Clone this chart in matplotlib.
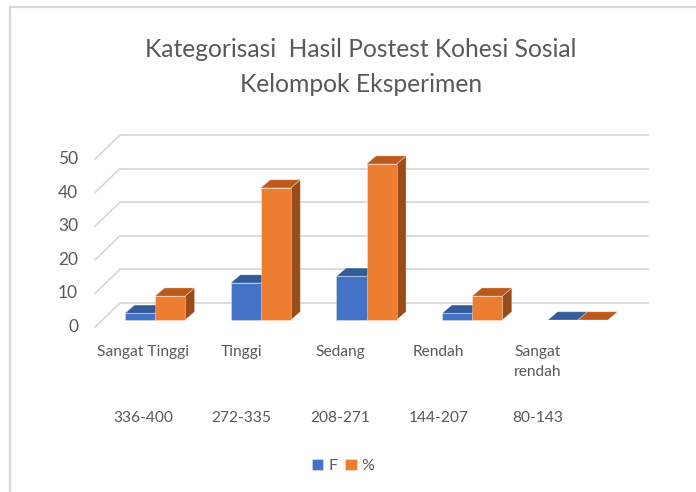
import matplotlib
matplotlib.use("Agg")
import matplotlib.pyplot as plt
from matplotlib.patches import Polygon
from matplotlib.lines import Line2D

# ---- data ----
categories = ["Sangat Tinggi", "Tinggi", "Sedang", "Rendah", "Sangat\nrendah"]
ranges = ["336-400", "272-335", "208-271", "144-207", "80-143"]
series_F = [2, 11, 13, 2, 0]
series_pct = [7.1, 39.3, 46.4, 7.1, 0]
yticks = [0, 10, 20, 30, 40, 50]
title = "Kategorisasi  Hasil Postest Kohesi Sosial\nKelompok Eksperimen"

# ---- style ----
FONT = ["Lato", "DejaVu Sans"]
plt.rcParams["font.family"] = FONT
TXT = "#595959"
GRID = "#d9d9d9"
blue = dict(front="#4472C4", top="#355A98", side="#2E4D85")
orange = dict(front="#ED7D31", top="#BC5A1C", side="#9A4B1A")

fig = plt.figure(figsize=(6.96, 4.92), dpi=100)
ax = fig.add_axes([0, 0, 1, 1])
ax.set_xlim(-1.466, 5.116)
ax.set_ylim(-51.19, 95.24)
ax.axis("off")

# oblique 3D geometry (data units)
floor_front_x, floor_back_x = -0.567, -0.331   # left edge of the floor, front / back
front_dy, wall_dy = -2.07, 5.07                # vertical offsets from the bar front plane
wall_right = 4.662
bar_dx, bar_dy = 0.09, 2.45                    # bar depth
bw = 0.284

# gridlines
for v in yticks:
    ax.plot([floor_front_x, floor_back_x], [v + front_dy, v + wall_dy], color=GRID,
            lw=1.3, zorder=1)
    ax.plot([floor_back_x, wall_right], [v + wall_dy, v + wall_dy],
            color=GRID, lw=1.3, zorder=1)
    ax.text(-0.728, v + front_dy, str(v), ha="right", va="center",
            fontsize=12.5, color=TXT)

edge = (1, 1, 1, 0.35)


def draw_bars(xs, vals, colors, label, z):
    bars = ax.bar(xs, vals, width=bw, align="edge", color=colors["front"],
                  edgecolor=edge, linewidth=0.6, zorder=z, label=label)
    for x, v in zip(xs, vals):
        top = [(x, v), (x + bw, v), (x + bw + bar_dx, v + bar_dy), (x + bar_dx, v + bar_dy)]
        side = [(x + bw, 0), (x + bw, v), (x + bw + bar_dx, v + bar_dy), (x + bw + bar_dx, bar_dy)]
        ax.add_patch(Polygon(side, closed=True, facecolor=colors["side"],
                             edgecolor=edge, lw=0.6, zorder=z - 0.1))
        ax.add_patch(Polygon(top, closed=True, facecolor=colors["top"],
                             edgecolor=edge, lw=0.6, zorder=z - 0.1))
    return bars


idx = list(range(len(categories)))
b1 = draw_bars([i - bw for i in idx], series_F, blue, "F", 3)
b2 = draw_bars([i for i in idx], series_pct, orange, "%", 4)

# category labels (perspective-shifted positions)
for i, (c, r) in enumerate(zip(categories, ranges)):
    xl = -0.113 + 0.932 * i
    ax.text(xl, -7.4, c, ha="center", va="top", fontsize=11.2, color=TXT,
            linespacing=1.55)
    ax.text(xl, -29.2, r, ha="center", va="center", fontsize=11.2, color=TXT)

# legend
leg = fig.legend(handles=[b1, b2], labels=["F", "%"], loc="center",
                 bbox_to_anchor=(343 / 696, 1 - 466 / 492), ncol=2, frameon=False,
                 fontsize=11.5, handlelength=0.72, handleheight=0.72,
                 handletextpad=0.3, columnspacing=0.5, labelcolor=TXT)

# title
fig.text(361 / 696, 1 - 67 / 492, title, ha="center", va="center",
         fontsize=17.7, color=TXT, linespacing=1.65)

# chart frame (partial, as in the crop)
fig.add_artist(Line2D([10 / 696, 10 / 696], [0, 1 - 7 / 492], color=GRID, lw=1.6))
fig.add_artist(Line2D([10 / 696, 1], [1 - 7 / 492, 1 - 7 / 492], color=GRID, lw=1.6))

fig.savefig("out.png", dpi=100)
